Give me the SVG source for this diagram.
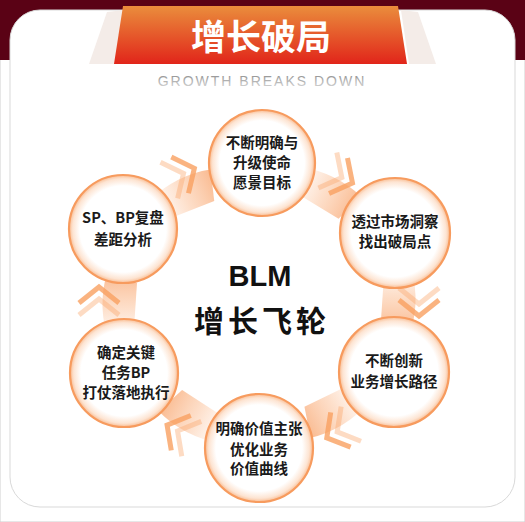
<svg xmlns="http://www.w3.org/2000/svg" width="525" height="522" viewBox="0 0 525 522">
<style>
.node-text{font-family:"Noto Sans CJK SC","Noto Sans",sans-serif;font-size:14.5px;font-weight:700;fill:#1a1a1a;text-anchor:middle}
.ring{fill:url(#cg);stroke:#f79b5e;stroke-width:2.2}
.chev1{fill:none;stroke:#f9a56a;stroke-width:5;stroke-opacity:0.4;stroke-linecap:butt}
.chev2{fill:none;stroke:#f9a060;stroke-width:5;stroke-opacity:0.8;stroke-linecap:butt}
</style>
<defs>
<linearGradient id="bn" x1="0" y1="0" x2="0" y2="1">
<stop offset="0" stop-color="#ea8d3c"/><stop offset="1" stop-color="#e1251a"/>
</linearGradient>
<linearGradient id="sub" x1="0" y1="0" x2="0" y2="1">
<stop offset="0" stop-color="#8a8a8a"/><stop offset="1" stop-color="#dcdcdc"/>
</linearGradient>
<radialGradient id="cg" cx="0.5" cy="0.5" r="0.5">
<stop offset="0" stop-color="#ffffff"/><stop offset="0.8" stop-color="#ffffff"/><stop offset="0.93" stop-color="#fde4d2"/><stop offset="1" stop-color="#f9bd93"/>
</radialGradient>
<linearGradient id="wg" x1="0" y1="0" x2="1" y2="0">
<stop offset="0" stop-color="#fcd2b4" stop-opacity="0"/><stop offset="0.5" stop-color="#fcc9a6" stop-opacity="0.6"/><stop offset="1" stop-color="#f9b283" stop-opacity="0.9"/>
</linearGradient>
<g id="conn">
<path d="M-42,10 L-42,-14 Q-5,-26 28,-16 L18,14 Z" fill="url(#wg)"/>
<polyline class="chev1" points="-14,-44 2,-24 -14,-4"/>
<polyline class="chev2" points="-2,-44 14,-24 -2,-4"/>
</g>
</defs>
<rect x="0" y="0" width="525" height="522" fill="#ffffff" stroke="#cfcfcf" stroke-width="1"/>
<rect x="0" y="0" width="525" height="60" fill="#5a0215"/>
<rect x="10" y="10" width="505" height="497" rx="30" fill="#ffffff" stroke="#d9d9d9" stroke-width="1"/>
<g id="header">
<polygon points="89,64 116,64 124,10 107,12" fill="#f4ece8"/>
<polygon points="436,64 409,64 401,10 418,12" fill="#f4ece8"/>
<polygon points="123,6 398,6 407,64 114,64" fill="url(#bn)"/>
<text x="261" y="50" font-family="'Noto Sans CJK SC',sans-serif" font-size="35" font-weight="700" fill="#ffffff" text-anchor="middle">增长破局</text>
<text x="262" y="86" font-family="'Liberation Sans',Arial,sans-serif" font-size="14" letter-spacing="2" fill="url(#sub)" text-anchor="middle">GROWTH BREAKS DOWN</text>
</g>
<g id="connectors">
<use href="#conn" transform="translate(192,196) rotate(-25.4)"/>
<use href="#conn" transform="translate(329,198) rotate(27.4)"/>
<use href="#conn" transform="translate(395,302) rotate(90)"/>
<use href="#conn" transform="translate(327,410) rotate(150.2)"/>
<use href="#conn" transform="translate(191,411) rotate(209.2)"/>
<use href="#conn" transform="translate(123,301) rotate(-90)"/>
</g>
<g id="center">
<text x="260" y="286" font-family="'Liberation Sans',Arial,sans-serif" font-size="29" font-weight="700" fill="#111" text-anchor="middle">BLM</text>
<text x="262" y="332" font-family="'Noto Sans CJK SC',sans-serif" font-size="30" font-weight="700" letter-spacing="4" fill="#111" text-anchor="middle">增长飞轮</text>
</g>
<g id="n-top">
<circle class="ring" cx="262" cy="163" r="53"/>
<text class="node-text" x="262" y="148">不断明确与</text>
<text class="node-text" x="262" y="168">升级使命</text>
<text class="node-text" x="262" y="188">愿景目标</text>
</g>
<g id="n-ur">
<circle class="ring" cx="395" cy="233" r="55"/>
<text class="node-text" x="395" y="227">透过市场洞察</text>
<text class="node-text" x="395" y="247">找出破局点</text>
</g>
<g id="n-lr">
<circle class="ring" cx="394" cy="372" r="55"/>
<text class="node-text" x="394" y="366">不断创新</text>
<text class="node-text" x="394" y="387">业务增长路径</text>
</g>
<g id="n-b">
<circle class="ring" cx="259" cy="448" r="54"/>
<text class="node-text" x="259" y="434">明确价值主张</text>
<text class="node-text" x="259" y="455">优化业务</text>
<text class="node-text" x="259" y="474">价值曲线</text>
</g>
<g id="n-ll">
<circle class="ring" cx="124" cy="373" r="54"/>
<text class="node-text" x="126" y="358">确定关键</text>
<text class="node-text" x="126" y="378">任务BP</text>
<text class="node-text" x="126" y="398">打仗落地执行</text>
</g>
<g id="n-ul">
<circle class="ring" cx="123" cy="229" r="54"/>
<text class="node-text" x="123" y="223">SP、BP复盘</text>
<text class="node-text" x="123" y="245">差距分析</text>
</g>
</svg>
